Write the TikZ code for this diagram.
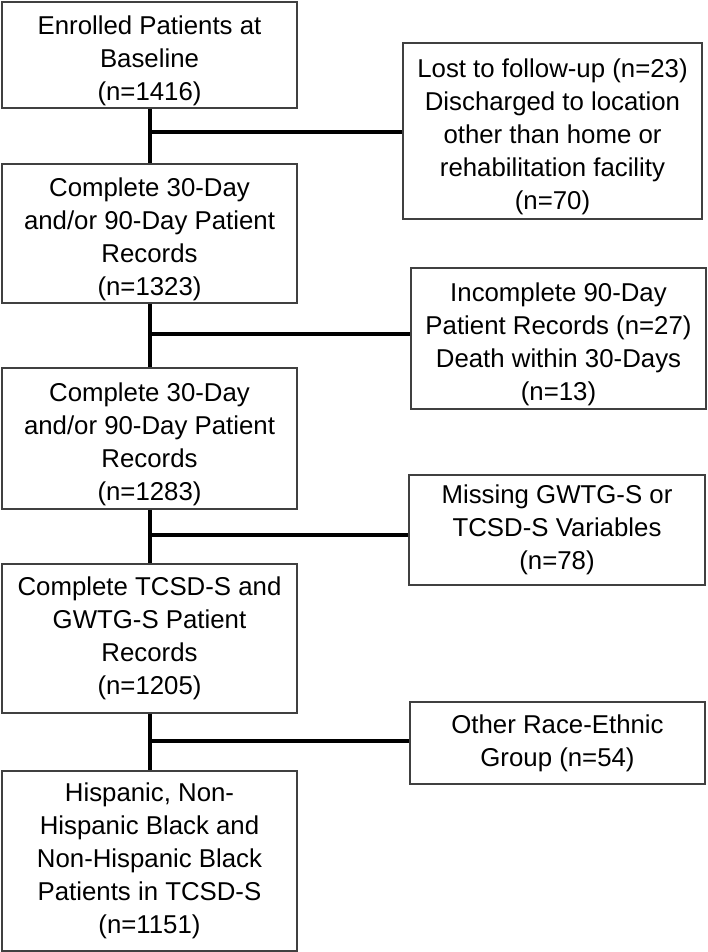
\documentclass[tikz,border=0pt]{standalone}
\usepackage{fontspec}
\setmainfont{Liberation Sans}
\newcommand\topstrut{\rule{0pt}{30pt}}
\begin{document}
\begin{tikzpicture}[x=1pt,y=-1pt,
  box/.style={draw=black!75, line width=1.2pt, align=center, inner sep=0pt, fill=white,
    font=\fontsize{25.8}{33}\selectfont},
  conn/.style={line width=4pt}]
\useasboundingbox[fill=white] (0,0) rectangle (708,952);
\node[box, minimum width=295pt, minimum height=106pt] (b1) at (149.5,55)
  {\topstrut Enrolled Patients at\\Baseline\\(n=1416)};
\node[box, minimum width=295pt, minimum height=139pt] (b2) at (149.5,233.5)
  {\topstrut Complete 30-Day\\and/or 90-Day Patient\\Records\\(n=1323)};
\node[box, minimum width=295pt, minimum height=141pt] (b3) at (149.5,438.5)
  {\topstrut Complete 30-Day\\and/or 90-Day Patient\\Records\\(n=1283)};
\node[box, minimum width=295pt, minimum height=149pt] (b4) at (149.5,638.5)
  {Complete TCSD-S and\\GWTG-S Patient\\Records\\(n=1205)};
\node[box, minimum width=295pt, minimum height=180pt] (b5) at (149.5,861)
  {Hispanic, Non-\\Hispanic Black and\\Non-Hispanic Black\\Patients in TCSD-S\\(n=1151)};
\node[box, minimum width=299pt, minimum height=176pt] (eA) at (552.5,131)
  {\topstrut Lost to follow-up (n=23)\\Discharged to location\\other than home or\\rehabilitation facility\\(n=70)};
\node[box, minimum width=295pt, minimum height=141pt] (eB) at (558.5,338.5)
  {\topstrut Incomplete 90-Day\\Patient Records (n=27)\\Death within 30-Days\\(n=13)};
\node[box, minimum width=296pt, minimum height=110pt] (eC) at (557,530)
  {Missing GWTG-S or\\TCSD-S Variables\\(n=78)};
\node[box, minimum width=295pt, minimum height=82pt] (eD) at (557.5,743)
  {Other Race-Ethnic\\Group (n=54)};
\coordinate (j1) at (149.5,132);
\coordinate (j2) at (149.5,334);
\coordinate (j3) at (149.5,535);
\coordinate (j4) at (149.5,741);
\draw[conn] (b1.south) -- (b2.north);
\draw[conn] (b2.south) -- (b3.north);
\draw[conn] (b3.south) -- (b4.north);
\draw[conn] (b4.south) -- (b5.north);
\draw[conn] (j1) -- (j1 -| eA.west);
\draw[conn] (j2) -- (j2 -| eB.west);
\draw[conn] (j3) -- (j3 -| eC.west);
\draw[conn] (j4) -- (j4 -| eD.west);
\end{tikzpicture}
\end{document}
